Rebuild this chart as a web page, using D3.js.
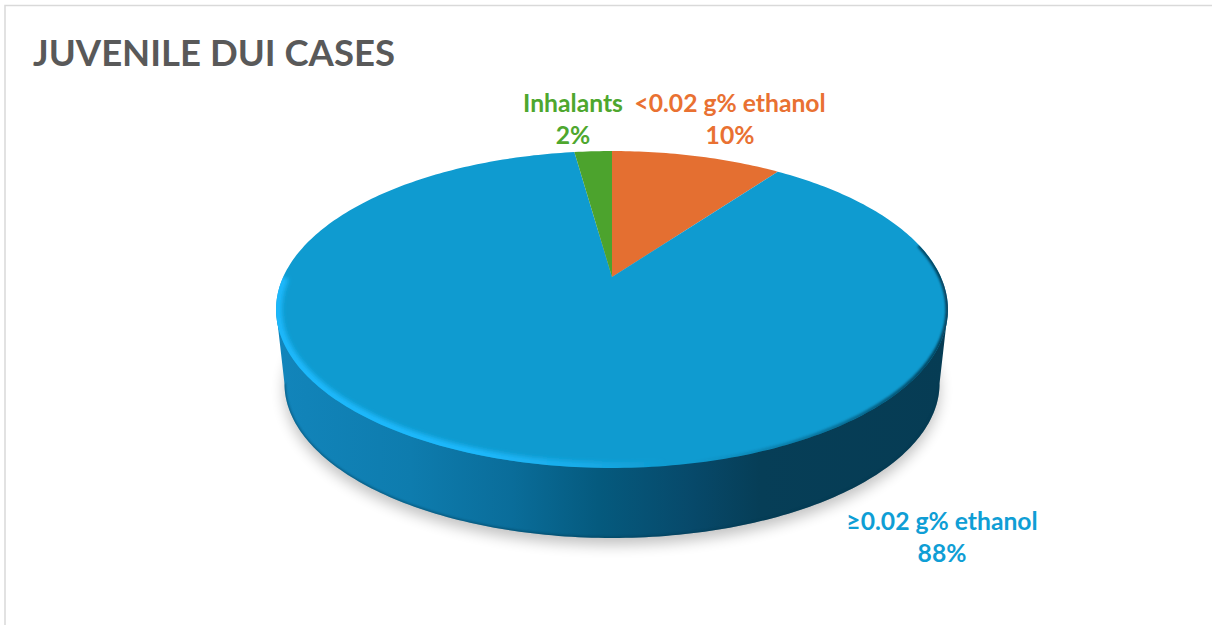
<!DOCTYPE html>
<meta charset="utf-8">
<style>
  body { margin: 0; background: #fff; }
  text { font-family: Lato, "Open Sans", sans-serif; font-weight: 700; }
</style>

<script src="https://d3js.org/d3.v7.min.js"></script>

<div id="my_dataviz"></div>

<script>
// values
const categories = ["<0.02 g% ethanol", "\u22650.02 g% ethanol", "Inhalants"];
const shares = [10, 87.8, 2.2];
const colors = ["#E97132", "#0F9ED5", "#4EA72E"];
const chartTitle = "JUVENILE DUI CASES";

const width = 1212, height = 625;

// the pie is tilted in perspective, so the apex sits above the middle of the ellipse
const persp = {cx: 612, cy: 277, a: 328.8, b: 151.8, p: 0.205};
const depth = {dy: 74, shrink: 0.975, midY: 309.5};

function project(angle, r) {
  const u = r * Math.sin(angle), v = -r * Math.cos(angle);
  const w = 1 - persp.p * v;
  return [persp.cx + persp.a * u / w, persp.cy + persp.b * v / w];
}

// same outline, pushed down and a bit narrower, for the bottom of the disc
function projectBottom(angle) {
  const [x, y] = project(angle, 1);
  return [persp.cx + (x - persp.cx) * depth.shrink,
          depth.midY + depth.dy + (y - depth.midY) * depth.shrink];
}

const line = d3.line();
const tau = 2 * Math.PI;

function sampled(a0, a1, fn) {
  const n = Math.max(2, Math.ceil(Math.abs(a1 - a0) * 60));
  return d3.range(n + 1).map(i => fn(a0 + (a1 - a0) * i / n));
}
const rim = a => project(a, 1);

const svg = d3.select("#my_dataviz")
  .append("svg")
    .attr("width", width)
    .attr("height", height)
    .style("display", "block");

const defs = svg.append("defs");

function addGradient(id, x1, x2, stops) {
  const g = defs.append("linearGradient")
    .attr("id", id)
    .attr("gradientUnits", "userSpaceOnUse")
    .attr("x1", x1).attr("x2", x2).attr("y1", 0).attr("y2", 0);
  stops.forEach(s => g.append("stop")
    .attr("offset", s[0])
    .attr("stop-color", s[1])
    .attr("stop-opacity", s[2] === undefined ? 1 : s[2]));
}

addGradient("side", 276, 948, [
  [0, "#1285bb"], [0.2, "#0e7cae"], [0.35, "#0a6d9a"], [0.48, "#055a7e"],
  [0.62, "#07496a"], [0.72, "#063e57"], [1, "#063c54"]
]);
addGradient("lightRim", 276, 948, [
  [0, "#1fb8fb", 1], [0.3, "#1fb8fb", 1], [0.45, "#1fb8fb", 0.6], [0.58, "#1fb8fb", 0]
]);
addGradient("darkRim", 276, 948, [
  [0.62, "#07405a", 0], [0.85, "#07405a", 0.5], [1, "#07405a", 1]
]);

[["blur2", 2], ["blur1", 1.2], ["blur8", 7]].forEach(d => {
  defs.append("filter")
      .attr("id", d[0])
      .attr("x", "-10%").attr("y", "-10%").attr("width", "120%").attr("height", "120%")
    .append("feGaussianBlur")
      .attr("stdDeviation", d[1]);
});

const topOutline = line(sampled(0, tau, rim)) + "Z";
defs.append("clipPath").attr("id", "topClip").append("path").attr("d", topOutline);

// chart frame, only top and left are inside the crop
svg.append("path")
  .attr("d", `M5,${height}V5.5H${width}`)
  .attr("fill", "none")
  .attr("stroke", "#d9d9d9")
  .attr("stroke-width", 1.5);

// soft shadow under the disc
svg.append("path")
  .attr("d", line(sampled(0, tau, projectBottom)) + "Z")
  .attr("transform", "translate(0,7)")
  .attr("fill", "#000")
  .attr("opacity", 0.24)
  .attr("filter", "url(#blur8)");

// side wall: from the widest points of the rim, round the lower half of the bottom
const wall = sampled(Math.PI * 0.5 + 0.206, Math.PI * 1.5 - 0.206, projectBottom).reverse();
const leftTop = [persp.cx - 336, depth.midY], rightTop = [persp.cx + 336, depth.midY];
const wallPath = line([leftTop, ...wall, rightTop]) + "Z";
defs.append("clipPath").attr("id", "wallClip").append("path").attr("d", wallPath);

svg.append("path")
  .attr("d", wallPath)
  .attr("fill", "url(#side)");

// thin dark line where the wall meets the shadow
svg.append("g")
    .attr("clip-path", "url(#wallClip)")
  .append("path")
    .attr("d", line(wall))
    .attr("fill", "none")
    .attr("stroke", "#04384f")
    .attr("stroke-width", 2.5)
    .attr("opacity", 0.5)
    .attr("filter", "url(#blur1)");

// slices on top
const pie = d3.pie().sort(null).value(d => d);
const arcs = pie(shares);

svg.append("g")
  .selectAll("path")
  .data(arcs)
  .join("path")
    .attr("d", d => line([project(0, 0), ...sampled(d.startAngle, d.endAngle, rim)]) + "Z")
    .attr("fill", (d, i) => d3.color(colors[i]).darker(0.06));

// bevel along the near edge
const bevel = svg.append("g").attr("clip-path", "url(#topClip)");
bevel.append("path")
  .attr("d", line(sampled(Math.PI * 0.6, Math.PI * 1.5, rim)))
  .attr("fill", "none")
  .attr("stroke", "url(#lightRim)")
  .attr("stroke-width", 12)
  .attr("filter", "url(#blur2)");
bevel.append("path")
  .attr("d", line(sampled(Math.PI * 0.43, Math.PI * 1.1, rim)))
  .attr("fill", "none")
  .attr("stroke", "url(#darkRim)")
  .attr("stroke-width", 5)
  .attr("filter", "url(#blur1)");

// title
svg.append("text")
  .attr("x", 33)
  .attr("y", 66)
  .style("font-size", "36.5px")
  .attr("fill", "#595959")
  .text(chartTitle);

// data labels
const labelX = [730, 942, 573];
const labelY = [112, 530, 112];
const pct = d3.format(".0f");

const labels = svg.append("g")
  .selectAll("text")
  .data(arcs)
  .join("text")
    .attr("text-anchor", "middle")
    .attr("fill", (d, i) => colors[i])
    .style("font-size", "24.7px");

labels.append("tspan")
  .attr("x", (d, i) => labelX[i])
  .attr("y", (d, i) => labelY[i])
  .text((d, i) => categories[i]);
labels.append("tspan")
  .attr("x", (d, i) => labelX[i])
  .attr("y", (d, i) => labelY[i] + 32)
  .text(d => pct(d.value) + "%");
</script>
